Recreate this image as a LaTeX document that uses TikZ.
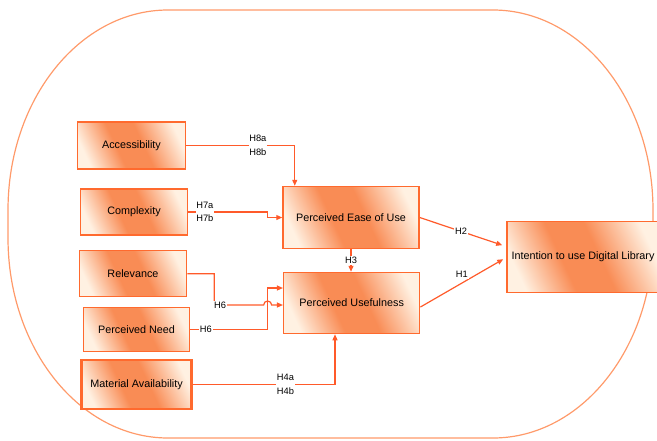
\documentclass[tikz,border=0pt]{standalone}
\usepackage{fontspec}
\setmainfont{Liberation Sans}
\definecolor{boxline}{HTML}{FF6A2E}
\definecolor{boxfill}{HTML}{F98C55}
\definecolor{boxlight}{HTML}{FFF1E2}
\definecolor{linkline}{HTML}{FF5A2A}
\definecolor{frameline}{HTML}{FF9A6A}
\usetikzlibrary{calc}
\usetikzlibrary{arrows.meta}
\pgfdeclarehorizontalshading{constructshade}{100bp}{color(0bp)=(boxlight); color(24bp)=(boxlight);
  color(42bp)=(boxfill); color(56bp)=(boxfill); color(76bp)=(boxlight); color(100bp)=(boxlight)}

\begin{document}
\begin{tikzpicture}[x=1pt, y=-1pt,
  construct/.style={draw=boxline, line width=1.5pt, shading=constructshade, shading angle=25,
    inner sep=0pt, font=\fontsize{10.8}{12}\selectfont},
  link/.style={draw=linkline, line width=1.2pt, -{Triangle[length=6pt,width=5pt]}},
  hyp/.style={fill=white, inner sep=0.8pt, align=center, font=\fontsize{9.3}{13.5}\selectfont}]

\useasboundingbox (0,0) rectangle (657,440);
\clip (0,0) rectangle (657,440);

% OUTER FRAME
\draw[frameline, line width=1.2pt] (168,10) -- (493,10)
  arc[start angle=-90, end angle=0, x radius=160, y radius=200] -- (653,238)
  arc[start angle=0, end angle=90, x radius=160, y radius=200] -- (168,438)
  arc[start angle=90, end angle=180, x radius=160, y radius=200] -- (8,210)
  arc[start angle=180, end angle=270, x radius=160, y radius=200];

% EXTERNAL FACTORS
\node[construct, minimum width=108, minimum height=47] (acc) at (131.5,145.4) {Accessibility};
\node[construct, minimum width=107, minimum height=46] (cmp) at (134,212) {Complexity};
\node[construct, minimum width=107, minimum height=46] (rel) at (133,273.7) {Relevance};
\node[construct, minimum width=106, minimum height=44] (need) at (136.6,329.5) {Perceived Need};
\node[construct, minimum width=110, minimum height=49, line width=2.3pt] (mat) at (136.6,384.5) {Material Availability};

% TAM CONSTRUCTS
\node[construct, minimum width=136, minimum height=62] (peou) at (351,217.5) {Perceived Ease of Use};
\node[construct, minimum width=136, minimum height=61] (pu) at (351.7,303) {Perceived Usefulness};
\node[construct, minimum width=152, minimum height=71] (itdl) at (583,257.2) {Intention to use Digital Library};

% crossing point of the two H6 paths
\coordinate (jump) at ($(pu.west)+(-15.3,2)$);

% HYPOTHESES
% accessibility
\draw[link] (acc.east) -| ($(peou.north west)+(12.5,0)$) node[hyp, pos=0.33]{H8a\\H8b};
% complexity
\draw[link] (cmp.east) -- node[hyp, pos=0.21]{H7a\\H7b} ++(79,0) |- (peou.west);
% relevance
\draw[link] (rel.east) -- ++(27,0) |- ($(jump)+(-4,0)$) node[hyp, pos=0.56]{H6}
  arc[start angle=180, end angle=0, radius=4pt] -- (pu.west |- jump);
% perceived need
\draw[link] (need.east) -| ($(pu.west)+(-15.3,-15)$) node[hyp, pos=0.1]{H6} -- ($(pu.west)+(0,-15)$);
% material availability
\draw[link] (mat.east) -| ($(pu.south)+(-16.7,0)$) node[hyp, pos=0.326]{H4a\\H4b};
% ease of use to usefulness
\draw[link] (peou.south) -- (peou.south |- pu.north) node[hyp, midway]{H3};
% to intention
\draw[link] (peou.east) -- ($(itdl.west)+(-4,-12)$) node[hyp, midway]{H2};
\draw[link] ($(pu.east)+(0,4)$) -- ($(itdl.west)+(-3,2)$) node[hyp, midway, above=4pt]{H1};

\end{tikzpicture}
\end{document}
